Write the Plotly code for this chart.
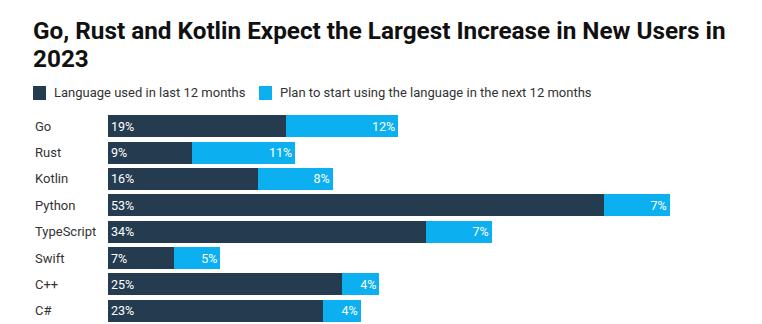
import plotly.graph_objects as go

categories = ["Go", "Rust", "Kotlin", "Python", "TypeScript", "Swift", "C++", "C#"]
used_last_12 = [19, 9, 16, 53, 34, 7, 25, 23]
plan_next_12 = [12, 11, 8, 7, 7, 5, 4, 4]
series_names = ["Language used in last 12 months",
                "Plan to start using the language in the next 12 months"]
title_lines = ["Go, Rust and Kotlin Expect the Largest Increase in New Users in", "2023"]

DARK = "#243b50"
LIGHT = "#0cb0f0"
W, H = 762, 324
L, R, T, B = 108, 0, 113, 0
plot_w = W - L - R
plot_h = H - T - B


def px_x(p):
    return (p - L) / plot_w


def px_y(p):
    return 1 + (T - p) / plot_h


fig = go.Figure()
fig.add_trace(go.Bar(
    y=categories, x=used_last_12, orientation="h", name=series_names[0],
    marker=dict(color=DARK, line=dict(width=0)),
    text=[f"{v}%" for v in used_last_12], textposition="inside",
    insidetextanchor="start", textangle=0,
    textfont=dict(color="white", size=12.5, family="Roboto"),
))
fig.add_trace(go.Bar(
    y=categories, x=plan_next_12, orientation="h", name=series_names[1],
    marker=dict(color=LIGHT, line=dict(width=0)),
    text=[f"{v}%" for v in plan_next_12], textposition="inside",
    insidetextanchor="end", textangle=0,
    textfont=dict(color="white", size=12.5, family="Roboto"),
))

for c in categories:
    fig.add_annotation(x=px_x(33), xref="paper", y=c, yref="y", text=c,
                       showarrow=False, xanchor="left",
                       font=dict(family="Roboto", size=13, color="#333333"))

# title (two lines)
for line, yc in zip(title_lines, [30, 58]):
    fig.add_annotation(x=px_x(31), xref="paper", y=px_y(yc), yref="paper",
                       text=line, showarrow=False, xanchor="left", yanchor="middle",
                       align="left",
                       font=dict(family="Roboto", size=24.3, color="#111111", weight="bold"))

# manual legend
legend_items = [(series_names[0], DARK, 33), (series_names[1], LIGHT, 259)]
for name, col, x0 in legend_items:
    fig.add_shape(type="rect", xref="paper", yref="paper",
                  x0=px_x(x0), x1=px_x(x0 + 13), y0=px_y(100), y1=px_y(86),
                  fillcolor=col, line=dict(width=0))
    fig.add_annotation(x=px_x(x0 + 19), xref="paper", y=px_y(93), yref="paper",
                       text=name, showarrow=False, xanchor="left", yanchor="middle",
                       font=dict(family="Roboto", size=13, color="#333333"))

fig.update_layout(
    width=W, height=H,
    margin=dict(l=L, r=R, t=T, b=B, pad=0),
    barmode="stack", bargap=0.17,
    plot_bgcolor="white", paper_bgcolor="white",
    uniformtext=dict(minsize=8, mode="show"),
    showlegend=False,
    xaxis=dict(range=[0, plot_w / 9.36], visible=False, fixedrange=True),
    yaxis=dict(autorange="reversed", showticklabels=False, showgrid=False,
               zeroline=False, showline=False, ticks=""),
)

fig.write_html("out.html")
